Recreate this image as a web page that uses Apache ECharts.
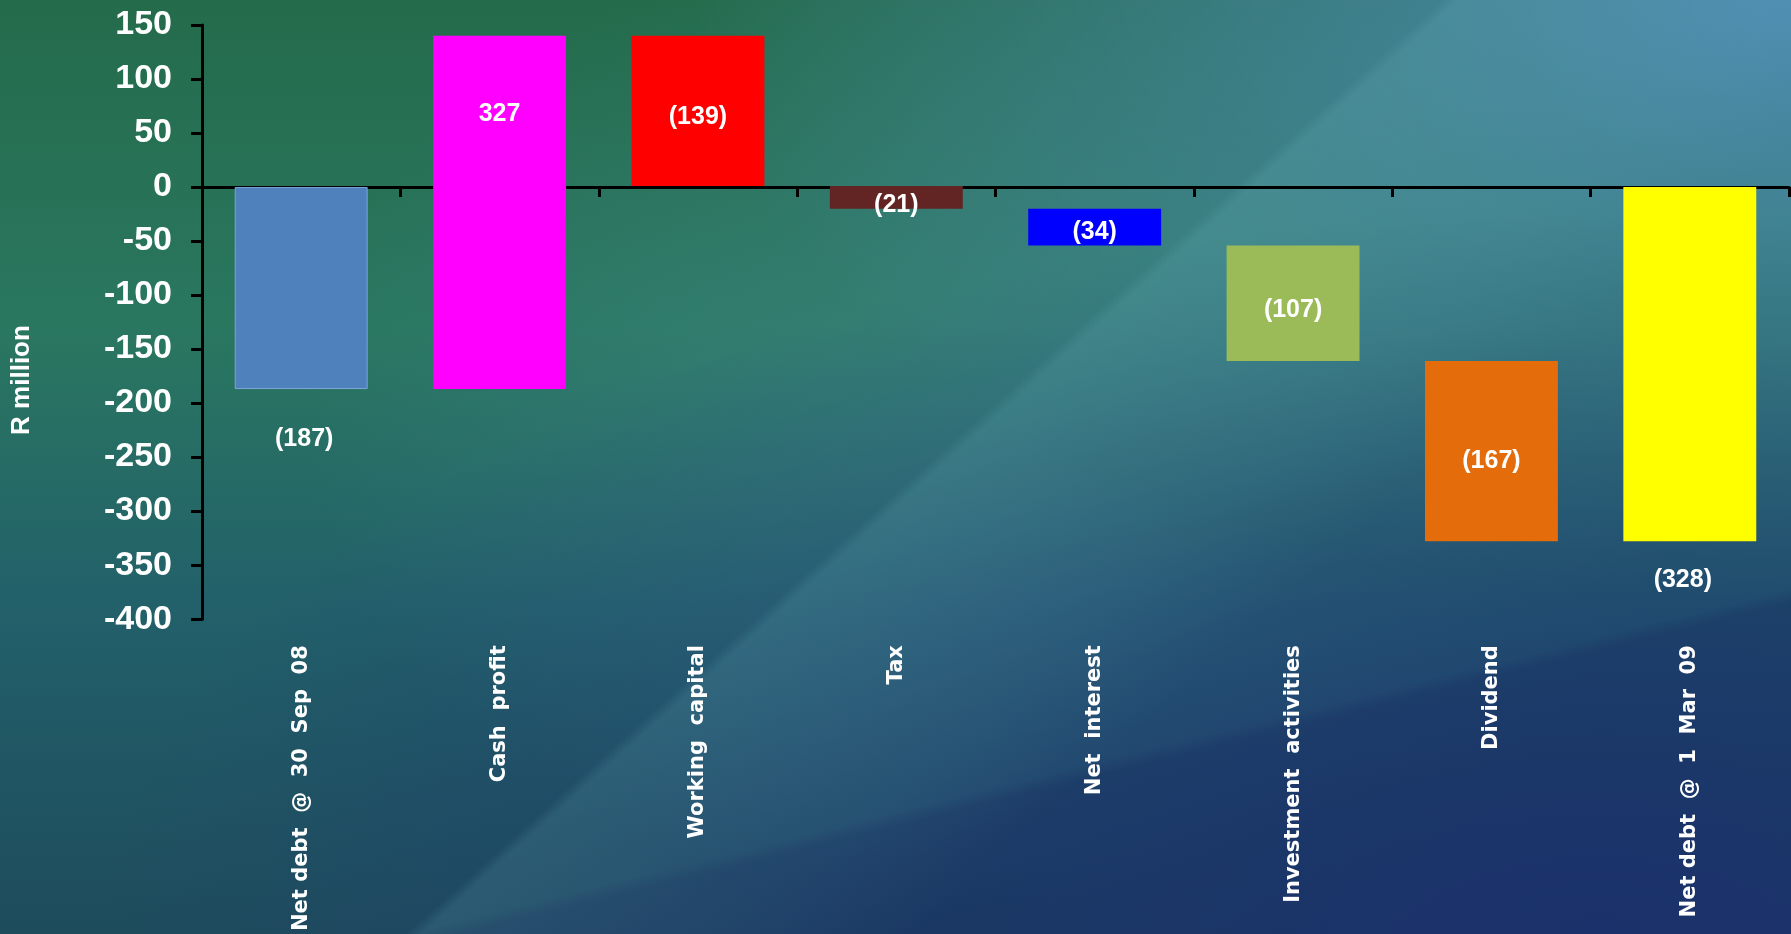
<!DOCTYPE html>
<html>
<head>
<meta charset="utf-8">
<script src="https://cdn.jsdelivr.net/npm/echarts@6/dist/echarts.min.js"></script>
<style>
html,body{margin:0;padding:0;width:1791px;height:934px;overflow:hidden;}
body{
  background:
    linear-gradient(138deg, rgba(0,0,0,0) 51%, rgba(130,210,215,0.13) 51.6%, rgba(130,210,215,0.06) 63%, rgba(0,0,0,0) 69%),
    linear-gradient(166deg, rgba(0,0,0,0) 75%, rgba(15,25,85,0.22) 76%),
    radial-gradient(ellipse 1500px 720px at 1600px 934px, rgba(30,55,115,0.95), rgba(30,55,115,0) 100%),
    radial-gradient(ellipse 1100px 600px at 1791px 0px, rgba(85,145,195,0.85), rgba(85,145,195,0) 100%),
    radial-gradient(ellipse 700px 500px at 1000px 420px, rgba(70,140,150,0.45), rgba(70,140,150,0) 100%),
    linear-gradient(to bottom, #246b4b 0%, #2a7760 35%, #22606a 65%, #1e4c5c 100%);
}
#chart{width:1791px;height:934px;}
</style>
</head>
<body>
<div id="chart"></div>
<script>
var categories = ['Net debt  @  30  Sep  08', 'Cash  profit', 'Working  capital', 'Tax', 'Net  interest', 'Investment  activities', 'Dividend', 'Net debt  @  1  Mar  09'];
var changes = [-187, 327, -139, -21, -34, -107, -167, -328];
var isTotal = [true, false, false, false, false, false, false, true];
var barColors = ['#4F81BD', '#FF00FF', '#FF0000', '#632523', '#0000FF', '#9BBB59', '#E46C0A', '#FFFF00'];
var yTicks = [150, 100, 50, 0, -50, -100, -150, -200, -250, -300, -350, -400];
var yAxisTitle = 'R million';

// invisible base of each floating bar = running total before the step
var bases = [];
var running = 0;
for (var i = 0; i < changes.length; i++) {
  if (isTotal[i]) { bases.push(0); running = changes[i]; }
  else { bases.push(running); running += changes[i]; }
}

// label placement (style only)
var labelPos = [
  {position: 'bottom', distance: 38, offset: [3, 0]},
  {position: 'insideTop', distance: 66},
  {position: 'inside', offset: [0, 6]},
  {position: 'inside', offset: [0, 8]},
  {position: 'inside', offset: [0, 5]},
  {position: 'inside', offset: [0, 7]},
  {position: 'inside', offset: [0, 10]},
  {position: 'bottom', distance: 26, offset: [-7, 0]}
];

var chart = echarts.init(document.getElementById('chart'), null, {renderer: 'canvas'});
var font = '"Liberation Sans", Arial, sans-serif';
var catFont = '"DejaVu Sans", Verdana, sans-serif';

var deltaData = changes.map(function (v, i) {
  return {
    value: v,
    itemStyle: {color: barColors[i], borderColor: i === 0 ? '#7FA6D8' : barColors[i], borderWidth: i === 0 ? 1 : 0},
    label: Object.assign({show: true}, labelPos[i])
  };
});

chart.setOption({
  animation: false,
  backgroundColor: 'transparent',
  grid: {left: 202, right: 2, top: 25, bottom: 313, containLabel: false},
  graphic: [{
    type: 'text', x: 22, y: 380, rotation: Math.PI / 2,
    style: {text: yAxisTitle, fill: '#fff', font: 'bold 26px ' + font, textAlign: 'center', textVerticalAlign: 'middle'}
  }],
  xAxis: [
    {
      type: 'category', data: categories, position: 'bottom',
      axisLine: {show: true, onZero: true, lineStyle: {color: '#000', width: 3}},
      axisTick: {show: true, alignWithLabel: false, length: 10, lineStyle: {color: '#000', width: 3}},
      axisLabel: {show: false},
      splitLine: {show: false}
    },
    {
      type: 'category', data: categories, position: 'bottom', offset: 0,
      axisLine: {show: false, onZero: false},
      axisTick: {show: false},
      axisLabel: {show: true, rotate: 90, margin: 26, color: '#fff', fontFamily: catFont, fontWeight: 'bold', fontSize: 21, interval: 0},
      splitLine: {show: false}
    }
  ],
  yAxis: {
    type: 'value', min: yTicks[yTicks.length - 1], max: yTicks[0], interval: 50,
    axisLine: {show: true, lineStyle: {color: '#000', width: 3}},
    axisTick: {show: true, length: 11, lineStyle: {color: '#000', width: 3}},
    axisLabel: {color: '#fff', fontFamily: font, fontWeight: 'bold', fontSize: 34, margin: 30},
    splitLine: {show: false}
  },
  series: [
    {
      type: 'bar', stack: 'wf', stackStrategy: 'all', xAxisIndex: 0,
      data: bases,
      itemStyle: {color: 'rgba(0,0,0,0)'},
      emphasis: {disabled: true},
      barWidth: '67%', silent: true
    },
    {
      type: 'bar', stack: 'wf', stackStrategy: 'all', xAxisIndex: 0,
      data: deltaData,
      barWidth: '67%',
      label: {
        show: true, color: '#fff', fontFamily: font, fontWeight: 'bold', fontSize: 25,
        formatter: function (p) { var v = p.value; return v < 0 ? '(' + Math.abs(v) + ')' : String(v); }
      }
    }
  ]
});
</script>
</body>
</html>
